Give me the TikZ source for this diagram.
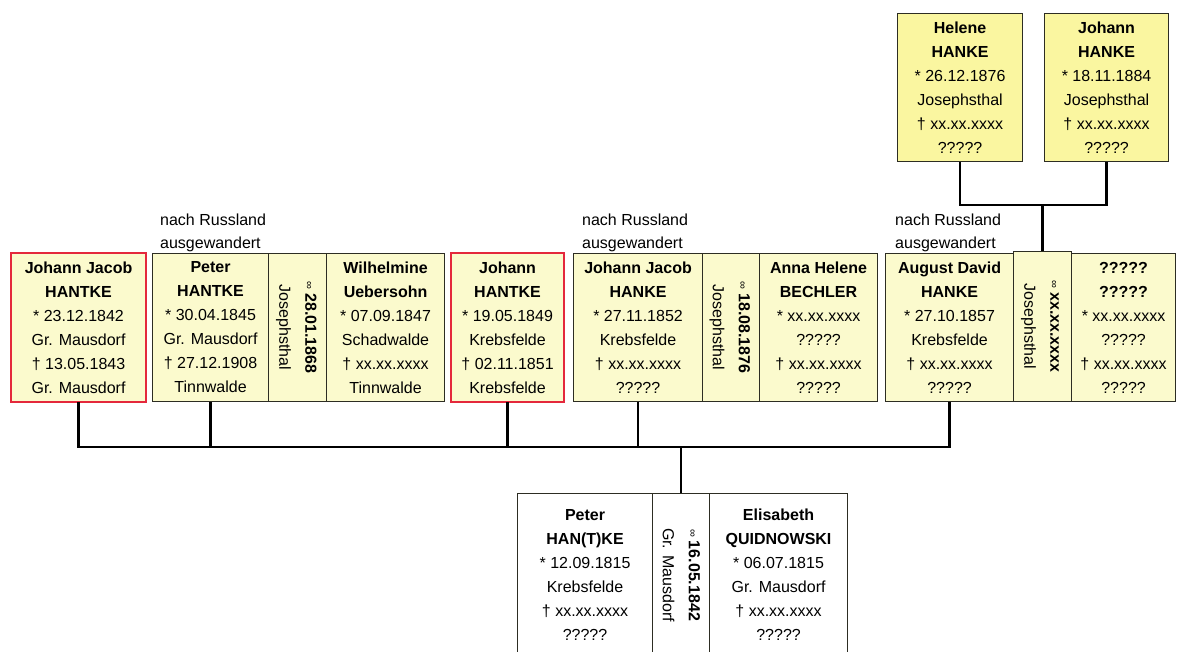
\documentclass[tikz,border=0pt]{standalone}
\usepackage{fontspec}
\usepackage{graphicx}
\setmainfont{Liberation Sans}
\definecolor{midfill}{RGB}{251,250,205}
\definecolor{topfill}{RGB}{250,246,160}
\definecolor{boxline}{RGB}{45,45,35}
\definecolor{deadred}{RGB}{228,40,60}
% marriage strip: date (bold, with ring sign) and place, turned to read downwards
\newcommand\marrtext[3]{\rotatebox{-90}{\begin{tabular}{@{}c@{}}{\fontsize{11}{11}\selectfont\raisebox{0.5pt}{∞}}\hspace{4pt}\textbf{#1}\hspace{#3}\\#2\end{tabular}}}
\tikzset{
  person/.style={draw=boxline, line width=1.1pt, fill=midfill, align=center,
    inner sep=0pt, anchor=north west, minimum height=148,
    font=\fontsize{16}{24}\selectfont},
  deadframe/.style={draw=deadred, line width=1.4pt},
  elder/.style={fill=topfill},
  root/.style={fill=white, minimum height=163},
  marriage/.style={font=\fontsize{16}{26}\selectfont},
  note/.style={anchor=south west, inner sep=0pt, align=left,
    font=\fontsize{16}{23}\selectfont},
  conn/.style={line width=2.4pt, draw=black}
}
\begin{document}
\begin{tikzpicture}[x=1pt,y=-1pt]
\useasboundingbox (0,0) rectangle (1181,651);
\fill[white] (0,0) rectangle (1181,651);
\clip (0,0) rectangle (1181,651);

% children generation
\node[person, minimum width=134] (jjhantke) at (11,253)
  {\textbf{Johann Jacob}\\\textbf{HANTKE}\\* 23.12.1842\\Gr. Mausdorf\\† 13.05.1843\\Gr. Mausdorf};
\node[person, minimum width=116] (peter) at (152,253)
  {\textbf{Peter}\\\textbf{HANTKE}\\* 30.04.1845\\Gr. Mausdorf\\† 27.12.1908\\Tinnwalde};
\node[person, marriage, minimum width=58] (m1) at (268,253)
  {\marrtext{28.01.1868}{Josephsthal}{26pt}};
\node[person, minimum width=118] (wilhelmine) at (326,253)
  {\textbf{Wilhelmine}\\\textbf{Uebersohn}\\* 07.09.1847\\Schadwalde\\† xx.xx.xxxx\\Tinnwalde};
\node[person, minimum width=112] (johann) at (451,253)
  {\textbf{Johann}\\\textbf{HANTKE}\\* 19.05.1849\\Krebsfelde\\† 02.11.1851\\Krebsfelde};
\node[person, minimum width=129] (jjhanke) at (573,253)
  {\textbf{Johann Jacob}\\\textbf{HANKE}\\* 27.11.1852\\Krebsfelde\\† xx.xx.xxxx\\?????};
\node[person, marriage, minimum width=57] (m2) at (702,253)
  {\marrtext{18.08.1876}{Josephsthal}{26pt}};
\node[person, minimum width=118] (anna) at (759,253)
  {\textbf{Anna Helene}\\\textbf{BECHLER}\\* xx.xx.xxxx\\?????\\† xx.xx.xxxx\\?????};
\node[person, minimum width=128] (august) at (885,253)
  {\textbf{August David}\\\textbf{HANKE}\\* 27.10.1857\\Krebsfelde\\† xx.xx.xxxx\\?????};
\node[person, marriage, minimum width=58, minimum height=150] (m3) at (1013,251)
  {\marrtext{xx.xx.xxxx}{Josephsthal}{24pt}};
\node[person, minimum width=104] (unknown) at (1071,253)
  {\textbf{?????}\\\textbf{?????}\\* xx.xx.xxxx\\?????\\† xx.xx.xxxx\\?????};

% red frames for the children who died young
\draw[deadframe] (jjhantke.north west) rectangle (jjhantke.south east);
\draw[deadframe] (johann.north west) rectangle (johann.south east);

% emigration notes
\node[note] (mig1) at ([xshift=8pt,yshift=1pt]peter.north west) {nach Russland\\ausgewandert};
\node[note] (mig2) at ([xshift=9pt,yshift=1pt]jjhanke.north west) {nach Russland\\ausgewandert};
\node[note] (mig3) at ([xshift=10pt,yshift=1pt]august.north west) {nach Russland\\ausgewandert};

% grandchildren
\node[person, elder, minimum width=125] (helene) at (897,13)
  {\textbf{Helene}\\\textbf{HANKE}\\* 26.12.1876\\Josephsthal\\† xx.xx.xxxx\\?????};
\node[person, elder, minimum width=124] (johann2) at (1044,13)
  {\textbf{Johann}\\\textbf{HANKE}\\* 18.11.1884\\Josephsthal\\† xx.xx.xxxx\\?????};

% parents
\node[person, root, minimum width=135] (peterroot) at (517,493)
  {\textbf{Peter}\\\textbf{HAN(T)KE}\\* 12.09.1815\\Krebsfelde\\† xx.xx.xxxx\\?????};
\node[person, root, marriage, minimum width=57] (m0) at (652,493)
  {\marrtext{16.05.1842}{Gr. Mausdorf}{34pt}};
\node[person, root, minimum width=138] (elisabeth) at (709,493)
  {\textbf{Elisabeth}\\\textbf{QUIDNOWSKI}\\* 06.07.1815\\Gr. Mausdorf\\† xx.xx.xxxx\\?????};

% connectors
\coordinate (bar) at (0,447);
\coordinate (topbar) at (0,205);
\draw[conn] (jjhantke.south) -- (jjhantke.south |- bar) -- (august.south |- bar) -- (august.south);
\draw[conn] (peter.south) -- (peter.south |- bar);
\draw[conn] (johann.south) -- (johann.south |- bar);
\draw[conn] (jjhanke.south) -- (jjhanke.south |- bar);
\draw[conn] (m0.north) -- (m0.north |- bar);
\draw[conn] (helene.south) -- (helene.south |- topbar) -- (johann2.south |- topbar) -- (johann2.south);
\draw[conn] (m3.north) -- (m3.north |- topbar);
\end{tikzpicture}
\end{document}
